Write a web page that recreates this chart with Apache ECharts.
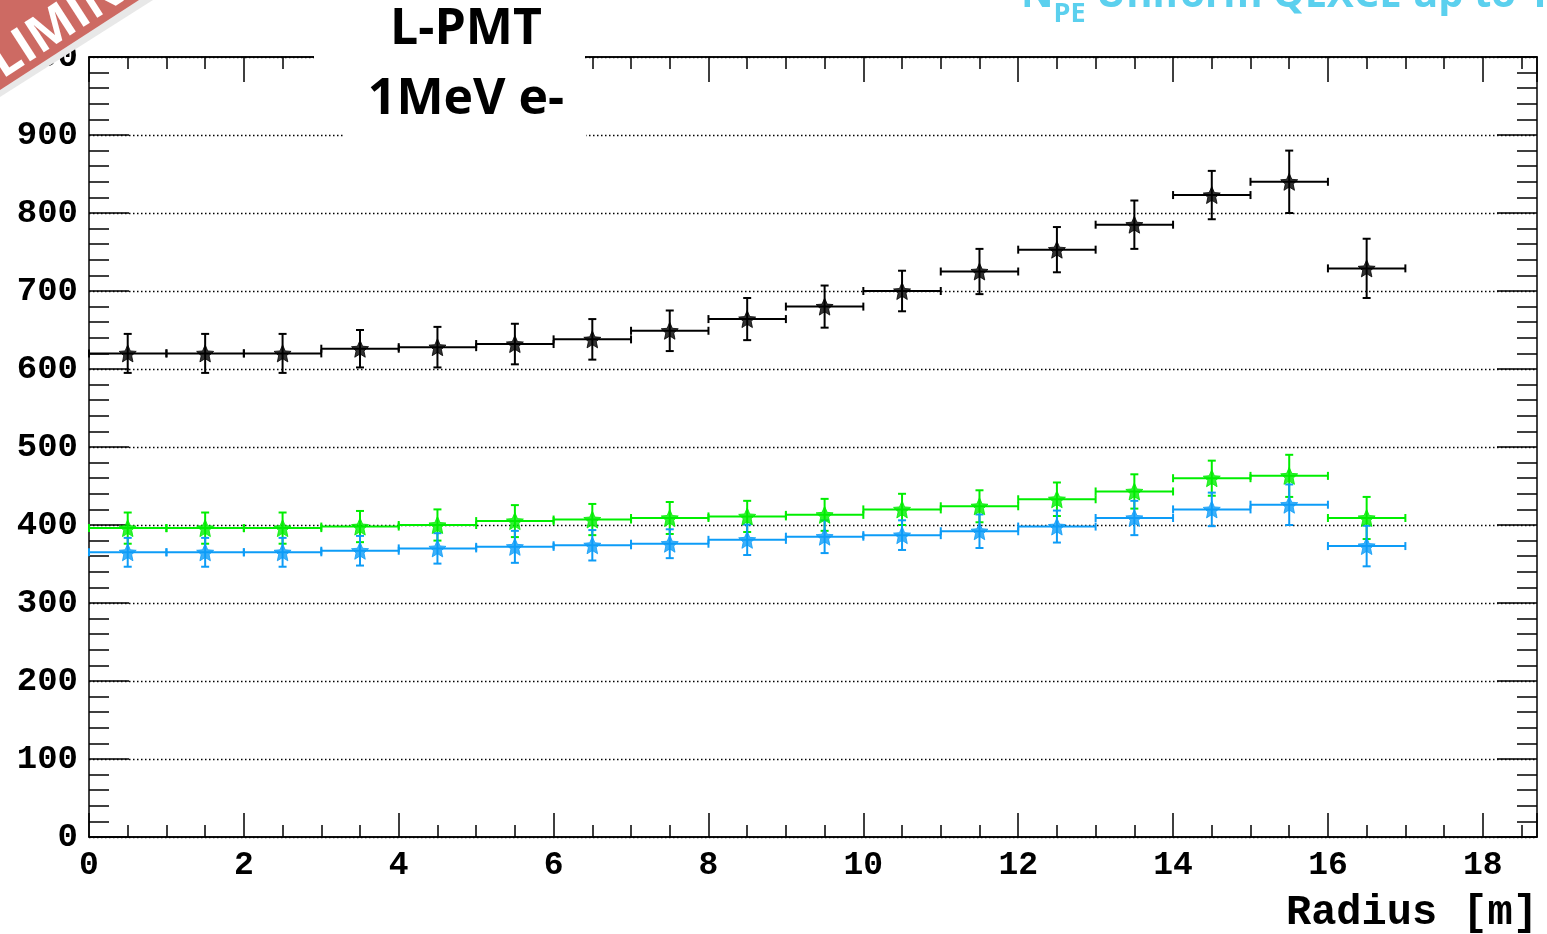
<!DOCTYPE html>
<html>
<head>
<meta charset="utf-8">
<script src="https://cdn.jsdelivr.net/npm/echarts@6/dist/echarts.min.js"></script>
<style>
  html, body { margin: 0; padding: 0; background: #fff; }
  #chart { width: 1547px; height: 934px; }
</style>
</head>
<body>
<div id="chart"></div>
<script>
// Radial bins (centres, metres); each bin is one metre wide
const radiusCenters = [0.5, 1.5, 2.5, 3.5, 4.5, 5.5, 6.5, 7.5, 8.5, 9.5, 10.5, 11.5, 12.5, 13.5, 14.5, 15.5, 16.5];
const binWidth = 1;

// Mean number of photoelectrons per bin, with errors
const npeBlack = [620, 620, 620, 626, 628, 632, 638, 649, 664, 680, 700, 725, 753, 785, 823, 840, 729];
const errBlack = [25, 25, 25, 24, 26, 26, 26, 26, 27, 27, 26, 29, 29, 31, 31, 40, 38];
const npeGreen = [396, 396, 396, 398, 400, 405, 407, 409, 411, 413, 420, 424, 433, 443, 460, 463, 409];
const errGreen = [20, 20, 20, 20, 20, 20.5, 20, 20.5, 20, 20.5, 20, 20.5, 21.5, 22, 22.5, 27, 27];
const npeBlue = [365, 365, 365, 367, 370, 372, 374, 376, 381, 385, 387, 392, 398, 409, 420, 426, 373];
const errBlue = [18.5, 18.5, 18.5, 19, 19.5, 20.5, 19.5, 18.5, 19.5, 21, 19, 21.5, 20.5, 22, 21.5, 26, 26];

const xMin = 0, xMax = 18.7;
const yMin = 0, yMax = 1000;

const monoFont = '"Liberation Mono", "DejaVu Sans Mono", monospace';
const sansFont = '"Open Sans", "Noto Sans", sans-serif';
const starPath = 'path://M0,-10 L2.9,-3.6 L9.51,-3.09 L4.4,1.44 L5.88,8.09 L0,4.6 L-5.88,8.09 L-4.4,1.44 L-9.51,-3.09 L-2.9,-3.6 Z';

function rows(ys, es) {
  return radiusCenters.map((x, i) => [x, ys[i], es[i]]);
}
function points(ys) {
  return radiusCenters.map((x, i) => [x, ys[i]]);
}

// Error-cross for a histogram bin: horizontal bar across the bin, vertical bar for the error, end caps
function makeErrorRenderer(color) {
  return function (params, api) {
    const x = api.value(0), y = api.value(1), e = api.value(2);
    const L = api.coord([x - binWidth / 2, y]);
    const R = api.coord([x + binWidth / 2, y]);
    const T = api.coord([x, y + e]);
    const B = api.coord([x, y - e]);
    const cap = 4;
    const style = { stroke: color, lineWidth: 2 };
    const ln = (x1, y1, x2, y2) => ({ type: 'line', shape: { x1, y1, x2, y2 }, style });
    return {
      type: 'group',
      children: [
        ln(L[0], L[1], R[0], R[1]),
        ln(T[0], T[1], B[0], B[1]),
        ln(L[0], L[1] - cap, L[0], L[1] + cap),
        ln(R[0], R[1] - cap, R[0], R[1] + cap),
        ln(T[0] - cap, T[1], T[0] + cap, T[1]),
        ln(B[0] - cap, B[1], B[0] + cap, B[1])
      ]
    };
  };
}

function errSeries(ys, es, color) {
  return {
    type: 'custom',
    xAxisIndex: 0, yAxisIndex: 0,
    renderItem: makeErrorRenderer(color),
    data: rows(ys, es),
    encode: { x: 0, y: 1 },
    silent: true,
    z: 3
  };
}
function markerSeries(ys, color) {
  return {
    type: 'scatter',
    xAxisIndex: 0, yAxisIndex: 0,
    data: points(ys),
    symbol: starPath,
    symbolSize: 17,
    itemStyle: { color: color, borderColor: color, borderWidth: 1 },
    silent: true,
    z: 4
  };
}

const axisLineStyle = { color: '#000', width: 1.5 };

function xAxisDef(position, interval, tickLen, withLabels) {
  return {
    type: 'value', position, min: xMin, max: xMax, interval,
    axisLine: { show: true, onZero: false, lineStyle: axisLineStyle },
    axisTick: { show: true, inside: true, length: tickLen, lineStyle: { color: '#000', width: 1.5 } },
    axisLabel: withLabels ? {
      show: true, margin: 12, color: '#000',
      fontFamily: monoFont, fontWeight: 'bold', fontSize: 33,
      formatter: v => (Math.abs(v % 2) < 1e-9 ? String(v) : '')
    } : { show: false },
    splitLine: { show: false },
    minorTick: { show: false }
  };
}

function yAxisDef(position, withLabels) {
  return {
    type: 'value', position, min: yMin, max: yMax, interval: 100,
    axisLine: { show: true, onZero: false, lineStyle: axisLineStyle },
    axisTick: { show: true, inside: true, length: 40, lineStyle: { color: '#000', width: 1.5 } },
    minorTick: { show: true, splitNumber: 5, length: 20, lineStyle: { color: '#000', width: 1.5 } },
    axisLabel: withLabels ? {
      show: true, margin: 11, color: '#000',
      fontFamily: monoFont, fontWeight: 'bold', fontSize: 34
    } : { show: false },
    splitLine: withLabels ? { show: true, lineStyle: { color: '#000', width: 1.3, type: [1.5, 2.5] } } : { show: false }
  };
}

const chart = echarts.init(document.getElementById('chart'), null, { renderer: 'canvas' });

chart.setOption({
  animation: false,
  backgroundColor: '#fff',
  grid: { left: 89, right: 10, top: 57, bottom: 97, containLabel: false, outerBoundsMode: 'none' },
  xAxis: [
    xAxisDef('bottom', 2, 24, true),
    xAxisDef('bottom', 0.5, 12, false),
    xAxisDef('top', 2, 25, false),
    xAxisDef('top', 0.5, 12, false)
  ],
  yAxis: [
    yAxisDef('left', true),
    yAxisDef('right', false)
  ],
  series: [
    errSeries(npeBlack, errBlack, '#000'),
    markerSeries(npeBlack, '#000'),
    errSeries(npeGreen, errGreen, '#00ee00'),
    markerSeries(npeGreen, '#00ee00'),
    errSeries(npeBlue, errBlue, '#0d9cf7'),
    markerSeries(npeBlue, '#0d9cf7')
  ],
  graphic: [
    // title panel
    { type: 'rect', z: 100, shape: { x: 314, y: 0, width: 271, height: 90 }, style: { fill: '#fff' } },
    { type: 'rect', z: 100, shape: { x: 345, y: 90, width: 241, height: 50 }, style: { fill: '#fff' } },
    { type: 'text', z: 101, x: 466, y: 30, style: { text: 'L-PMT', fill: '#000', font: 'bold 50px ' + sansFont, align: 'center', verticalAlign: 'middle' } },
    { type: 'text', z: 101, x: 466, y: 100, style: { text: '1MeV e-', fill: '#000', font: 'bold 50px ' + sansFont, align: 'center', verticalAlign: 'middle' } },
    // caption, top right
    {
      type: 'text', z: 101, x: 1021, y: 16,
      style: {
        text: '{n|N}{s|PE}{n| Uniform QEXCE up to 1}',
        verticalAlign: 'bottom',
        rich: {
          n: { fill: '#5bd0ee', font: 'bold 40px ' + sansFont, verticalAlign: 'bottom' },
          s: { fill: '#5bd0ee', font: 'bold 27px ' + sansFont, verticalAlign: 'bottom', padding: [0, 0, -12, 0] }
        }
      }
    },
    // x axis title
    { type: 'text', z: 101, x: 1538, y: 913, style: { text: 'Radius [m]', fill: '#000', font: 'bold 42px ' + monoFont, align: 'right', verticalAlign: 'middle' } },
    // corner banner
    { type: 'polygon', z: 110, shape: { points: [[0, 0], [153, 0], [0, 97]] }, style: { fill: '#e8e8e8' } },
    { type: 'polygon', z: 111, shape: { points: [[0, 0], [139, 0], [0, 90]] }, style: { fill: '#cd6a63' } },
    {
      type: 'text', z: 112, x: 60, y: 25, rotation: 0.575,
      style: { text: 'PRELIMINARY', fill: '#fff', font: 'bold 50px ' + sansFont, align: 'center', verticalAlign: 'middle' }
    }
  ]
});
</script>
</body>
</html>
